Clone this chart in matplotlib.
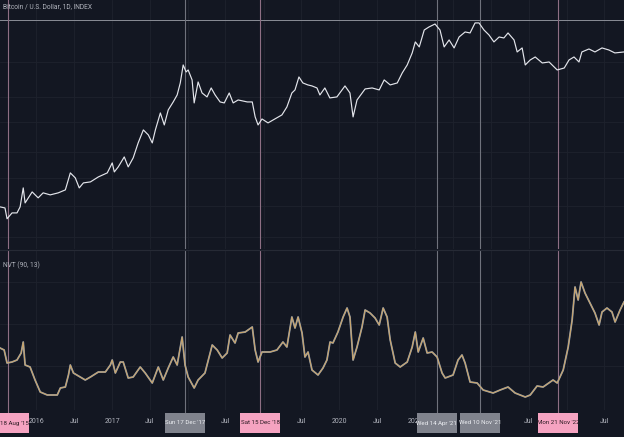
import matplotlib
matplotlib.use("Agg")
import matplotlib.pyplot as plt
import matplotlib.transforms as mtransforms
from matplotlib.patches import Rectangle
import pandas as pd

# Bitcoin daily close (log scale)
price_dates = [
    '2015-07-10', '2015-08-03', '2015-08-13', '2015-09-06', '2015-09-30', '2015-10-15', '2015-10-30',
    '2015-11-08', '2015-12-12', '2016-01-10', '2016-02-03', '2016-03-08', '2016-04-16', '2016-05-20',
    '2016-06-13', '2016-07-07', '2016-07-26', '2016-08-15', '2016-09-18', '2016-10-26', '2016-12-08',
    '2017-01-01', '2017-01-11', '2017-01-30', '2017-02-28', '2017-03-19', '2017-04-12', '2017-05-06',
    '2017-05-31', '2017-06-24', '2017-07-13', '2017-07-28', '2017-08-21', '2017-09-09', '2017-09-28',
    '2017-10-22', '2017-11-10', '2017-11-25', '2017-12-09', '2017-12-23', '2018-01-02', '2018-01-21',
    '2018-01-31', '2018-02-19', '2018-03-10', '2018-04-03', '2018-04-23', '2018-05-12', '2018-06-05',
    '2018-06-25', '2018-07-19', '2018-08-07', '2018-08-31', '2018-10-14', '2018-11-07', '2018-11-21',
    '2018-12-05', '2018-12-24', '2019-01-22', '2019-02-24', '2019-03-30', '2019-04-23', '2019-05-17',
    '2019-06-01', '2019-06-20', '2019-07-09', '2019-08-02', '2019-08-22', '2019-09-15', '2019-09-29',
    '2019-10-23', '2019-11-16', '2019-12-20', '2020-01-28', '2020-02-21', '2020-03-07', '2020-03-26',
    '2020-05-04', '2020-06-07', '2020-07-11', '2020-08-04', '2020-09-02', '2020-10-06', '2020-10-30',
    '2020-11-23', '2020-12-17', '2021-01-01', '2021-01-20', '2021-02-13', '2021-03-08', '2021-04-06',
    '2021-04-30', '2021-05-20', '2021-06-13', '2021-07-07', '2021-07-31', '2021-08-29', '2021-09-22',
    '2021-10-16', '2021-11-04', '2021-11-28', '2021-12-22', '2022-01-15', '2022-02-09', '2022-03-04',
    '2022-03-24', '2022-04-22', '2022-05-07', '2022-05-31', '2022-06-15', '2022-07-09', '2022-08-02',
    '2022-09-05', '2022-10-08', '2022-11-01', '2022-11-16', '2022-12-20', '2023-01-12', '2023-02-05',
    '2023-03-01', '2023-03-15', '2023-04-18', '2023-05-17', '2023-06-20', '2023-07-23', '2023-08-21',
    '2023-10-04',
]
price_close = [
    251, 243, 175, 209, 209, 251, 446,
    283, 395, 330, 384, 361, 384, 420,
    703, 604, 446, 519, 535, 622, 703,
    951, 724, 843, 1141, 843, 1107, 1744,
    2586, 2222, 1744, 2586, 4325, 3006, 4742,
    6039, 7464, 10740, 18530, 14990, 15920, 11770,
    5861, 11067, 7925, 7031, 9226, 7464, 6039,
    5861, 7925, 5861, 6412, 6039, 6039, 3837,
    3006, 3606, 3198, 3606, 4074, 5188, 7925,
    8690, 12882, 10740, 10116, 9808, 9226, 7464,
    9226, 6823, 7031, 9808, 7925, 3837, 6412,
    8954, 9226, 8690, 11770, 10116, 10740, 14550,
    18530, 26670, 37240, 31990, 53460, 58610, 64120,
    53460, 31990, 39540, 31040, 43250, 50350, 48870,
    66220, 66220, 53460, 46030, 37240, 43250, 41980,
    48870, 39540, 27480, 31040, 18530, 21560, 23600,
    19680, 20280, 17460, 15920, 16900, 21560, 23600,
    20280, 27480, 30060, 27480, 31040, 29170, 26670,
    27480,
]

# NVT (90, 13)
nvt_dates = [
    '2015-07-10', '2015-07-30', '2015-08-13', '2015-09-06', '2015-09-30', '2015-10-20', '2015-10-30',
    '2015-11-08', '2015-12-02', '2015-12-26', '2016-01-20', '2016-02-23', '2016-04-11', '2016-04-26',
    '2016-05-20', '2016-06-04', '2016-06-13', '2016-06-28', '2016-07-31', '2016-08-24', '2016-09-18',
    '2016-10-26', '2016-11-29', '2016-12-23', '2017-01-01', '2017-01-16', '2017-02-09', '2017-02-23',
    '2017-03-19', '2017-04-12', '2017-05-16', '2017-06-09', '2017-07-13', '2017-08-11', '2017-09-04',
    '2017-09-28', '2017-10-22', '2017-11-10', '2017-12-04', '2017-12-18', '2018-01-02', '2018-01-31',
    '2018-02-19', '2018-03-24', '2018-04-28', '2018-05-22', '2018-06-15', '2018-07-09', '2018-07-23',
    '2018-08-16', '2018-08-31', '2018-10-04', '2018-11-07', '2018-11-21', '2018-12-05', '2018-12-24',
    '2019-02-01', '2019-03-06', '2019-04-04', '2019-04-23', '2019-05-17', '2019-06-01', '2019-06-16',
    '2019-07-05', '2019-07-19', '2019-08-03', '2019-08-22', '2019-09-20', '2019-10-14', '2019-11-02',
    '2019-11-17', '2019-12-01', '2019-12-25', '2020-01-19', '2020-02-07', '2020-02-21', '2020-03-07',
    '2020-03-26', '2020-04-19', '2020-05-04', '2020-05-28', '2020-06-21', '2020-07-11', '2020-07-30',
    '2020-08-18', '2020-09-02', '2020-09-26', '2020-10-20', '2020-11-23', '2020-12-17', '2021-01-01',
    '2021-01-15', '2021-02-08', '2021-02-27', '2021-03-23', '2021-04-16', '2021-05-10', '2021-05-25',
    '2021-07-02', '2021-07-26', '2021-08-14', '2021-08-29', '2021-09-22', '2021-10-26', '2021-11-24',
    '2022-01-11', '2022-02-14', '2022-03-24', '2022-04-27', '2022-06-15', '2022-07-09', '2022-08-11',
    '2022-09-09', '2022-10-27', '2022-11-16', '2022-12-15', '2023-01-08', '2023-01-27', '2023-02-10',
    '2023-02-25', '2023-03-11', '2023-03-30', '2023-04-23', '2023-05-17', '2023-06-06', '2023-06-20',
    '2023-07-14', '2023-08-07', '2023-08-22', '2023-09-15', '2023-10-04',
]
nvt_values = [
    62, 60, 47, 48, 50, 57, 68,
    45, 43, 30, 18, 15, 15, 22,
    23, 35, 45, 37, 33, 30, 33,
    38, 38, 45, 50, 37, 48, 48,
    32, 33, 43, 37, 27, 43, 30,
    42, 53, 45, 73, 45, 33, 22,
    30, 37, 65, 60, 52, 57, 75,
    67, 77, 78, 83, 60, 48, 58,
    58, 60, 68, 63, 93, 82, 93,
    77, 53, 58, 40, 35, 42, 50,
    68, 67, 78, 93, 102, 93, 50,
    63, 83, 100, 97, 92, 85, 102,
    93, 70, 47, 43, 48, 63, 78,
    58, 72, 57, 58, 53, 37, 32,
    35, 50, 55, 47, 28, 27, 20,
    17, 20, 23, 17, 13, 15, 24,
    23, 30, 27, 40, 63, 90, 123,
    110, 128, 117, 107, 97, 85, 98,
    102, 98, 88, 100, 108,
]

marker_dates = ['2015-08-18', '2017-12-17', '2018-12-15', '2021-04-14', '2021-11-10', '2022-11-21']
marker_labels = ["18 Aug '15", "Sun 17 Dec '17", "Sat 15 Dec '18", "Wed 14 Apr '21", "Wed 10 Nov '21", "Mon 21 Nov '22"]
marker_kinds = ['pink', 'gray', 'pink', 'gray', 'gray', 'pink']

tick_dates = ['2016-01-01', '2016-07-01', '2017-01-01', '2017-07-01', '2018-07-01', '2019-07-01',
              '2020-01-01', '2020-07-01', '2021-01-01', '2022-07-01', '2023-07-01']
tick_labels = ['2016', 'Jul', '2017', 'Jul', 'Jul', 'Jul', '2020', 'Jul', '2021', 'Jul', 'Jul']
grid_dates = ['2016-01-01', '2016-07-01', '2017-01-01', '2017-07-01', '2018-01-01', '2018-07-01',
              '2019-01-01', '2019-07-01', '2020-01-01', '2020-07-01', '2021-01-01', '2021-07-01',
              '2022-01-01', '2022-07-01', '2023-01-01', '2023-07-01']

price_grid = [101, 259, 604, 1328, 3306, 7031, 20280]
crosshair_price = 72400
nvt_grid = [44, 86, 128]

BG = '#131722'
GRID = '#1e222d'
TXT = '#b2b5be'
plt.rcParams['font.family'] = ['Roboto', 'DejaVu Sans']

pd_price = pd.to_datetime(price_dates)
pd_nvt = pd.to_datetime(nvt_dates)
x0, x1 = pd.Timestamp('2015-07-10'), pd.Timestamp('2023-10-04')

fig = plt.figure(figsize=(6.24, 4.37), dpi=100, facecolor=BG)
ax_p = fig.add_axes([0, 188 / 437, 1, 249 / 437], facecolor=BG)
ax_n = fig.add_axes([0, 27 / 437, 1, 160 / 437], facecolor=BG, sharex=ax_p)

for ax in (ax_p, ax_n):
    for s in ax.spines.values():
        s.set_visible(False)
    for d in grid_dates:
        ax.axvline(pd.Timestamp(d), color=GRID, lw=0.6, zorder=0)

# price panel
ax_p.set_yscale('log')
ax_p.set_ylim(70, 132700)
ax_p.set_xlim(x0, x1)
for g in price_grid:
    ax_p.axhline(g, color=GRID, lw=0.6, zorder=0)
ax_p.axhline(crosshair_price, color='#8a8d96', lw=0.7, zorder=1)
ax_p.plot(pd_price, price_close, color='#e3e5eb', lw=0.85, zorder=3)
ax_p.tick_params(left=False, bottom=False, labelleft=False, labelbottom=False, which='both')
ax_p.text(0.005, 1 - 7 / 249, 'Bitcoin / U.S. Dollar, 1D, INDEX', transform=ax_p.transAxes,
          color=TXT, fontsize=4.8, va='center', ha='left')

# NVT panel
ax_n.set_ylim(0, 160)
for g in nvt_grid:
    ax_n.axhline(g, color=GRID, lw=0.6, zorder=0)
ax_n.plot(pd_nvt, nvt_values, color='#8796ad', lw=1.3, zorder=2)
ax_n.plot(pd_nvt, nvt_values, color='#c9a56b', lw=0.8, zorder=3)
ax_n.text(0.005, (410 - 265) / 160, 'NVT (90, 13)', transform=ax_n.transAxes,
          color=TXT, fontsize=4.8, va='center', ha='left')
ax_n.tick_params(left=False, labelleft=False, length=0, pad=5.5, labelsize=5.0, labelcolor=TXT)
ax_n.set_xticks(pd.to_datetime(tick_dates))
ax_n.set_xticklabels(tick_labels)

fig.add_artist(plt.Line2D([0, 1], [1 - 249.5 / 437] * 2, color='#262a35', lw=0.8))

# marker lines and date boxes (40 x 20 px)
trans = mtransforms.blended_transform_factory(ax_n.transData, ax_n.transAxes)
days_per_px = (x1 - x0).days / 624
box_w = pd.Timedelta(days=40 * days_per_px)
box_h = 20 / 160
box_y = -23 / 160
for d, lab, kind in zip(marker_dates, marker_labels, marker_kinds):
    t = pd.Timestamp(d)
    lc = '#8e6f84' if kind == 'pink' else '#6f727c'
    ax_p.axvline(t, color=lc, lw=0.8, zorder=1)
    ax_n.axvline(t, color=lc, lw=0.8, zorder=1, ymin=-0.03, clip_on=False)
    fc = '#f5a3c1' if kind == 'pink' else '#80838d'
    tc = '#2a1a22' if kind == 'pink' else '#eceef2'
    if d == marker_dates[0]:
        left = x0
        w = pd.Timedelta(days=29 * days_per_px)
    else:
        left = t - box_w / 2
        w = box_w
    ax_n.add_patch(Rectangle((left, box_y), w, box_h, transform=trans, fc=fc, ec='none',
                             zorder=9, clip_on=False))
    ax_n.text(left + w / 2, box_y + box_h / 2, lab, transform=trans, ha='center', va='center',
              fontsize=4.4, color=tc, zorder=10, clip_on=False)

fig.savefig('out.png', dpi=100, facecolor=BG)
